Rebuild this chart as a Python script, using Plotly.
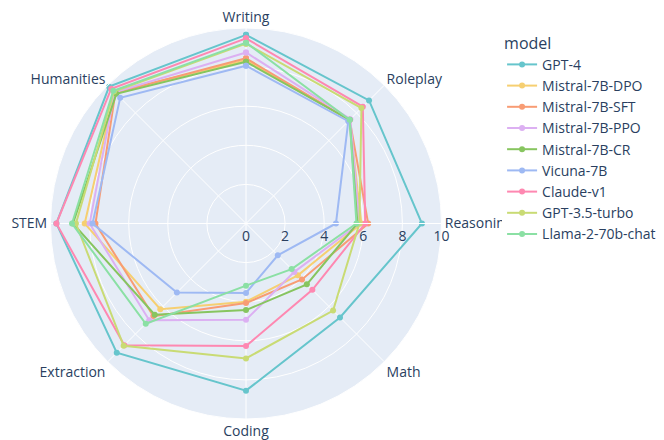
import plotly.graph_objects as go

categories = ["Writing", "Roleplay", "Reasoning", "Math", "Coding", "Extraction", "STEM", "Humanities"]

models = ["GPT-4", "Mistral-7B-DPO", "Mistral-7B-SFT", "Mistral-7B-PPO", "Mistral-7B-CR",
          "Vicuna-7B", "Claude-v1", "GPT-3.5-turbo", "Llama-2-70b-chat"]

gpt4 = [9.65, 8.9, 9.0, 6.8, 8.55, 9.35, 9.7, 9.9]
mistral_dpo = [8.35, 7.5, 5.9, 3.75, 4.0, 6.2, 8.25, 9.5]
mistral_sft = [8.45, 7.5, 6.25, 4.05, 4.07, 6.7, 7.7, 9.45]
mistral_ppo = [8.75, 7.55, 5.8, 3.5, 4.92, 7.0, 8.0, 9.5]
mistral_cr = [8.27, 7.5, 5.7, 4.4, 4.43, 6.6, 8.85, 9.38]
vicuna_7b = [8.07, 7.4, 4.6, 2.3, 3.55, 5.0, 7.85, 9.1]
claude_v1 = [9.47, 8.45, 6.1, 4.8, 6.27, 8.8, 9.7, 9.75]
gpt35_turbo = [9.2, 8.35, 5.8, 6.3, 6.9, 8.85, 8.7, 9.55]
llama2_70b = [9.25, 7.5, 5.65, 3.3, 3.18, 7.25, 8.9, 9.6]

series = [gpt4, mistral_dpo, mistral_sft, mistral_ppo, mistral_cr,
          vicuna_7b, claude_v1, gpt35_turbo, llama2_70b]

colors = ["rgb(102, 197, 204)", "rgb(246, 207, 113)", "rgb(248, 156, 116)",
          "rgb(220, 176, 242)", "rgb(135, 197, 95)", "rgb(158, 185, 243)",
          "rgb(254, 136, 177)", "rgb(201, 219, 116)", "rgb(139, 224, 164)"]

fig = go.Figure()
for name, vals, col in zip(models, series, colors):
    fig.add_trace(go.Scatterpolar(
        r=vals + vals[:1],
        theta=categories + categories[:1],
        mode="lines+markers",
        name=name,
        line=dict(color=col, width=2),
        marker=dict(color=col, size=6),
    ))

fig.update_layout(
    template="plotly",
    width=664,
    height=440,
    font=dict(size=14),
    margin=dict(l=0, r=188, t=20, b=29),
    legend=dict(title=dict(text="model", font=dict(size=16)), x=1.038, tracegroupgap=0),
    polar=dict(
        domain=dict(x=[0, 1], y=[0, 1]),
        angularaxis=dict(direction="clockwise", rotation=90),
        radialaxis=dict(range=[0, 10], tickvals=[0, 2, 4, 6, 8, 10]),
    ),
)

fig.write_html("out.html")
